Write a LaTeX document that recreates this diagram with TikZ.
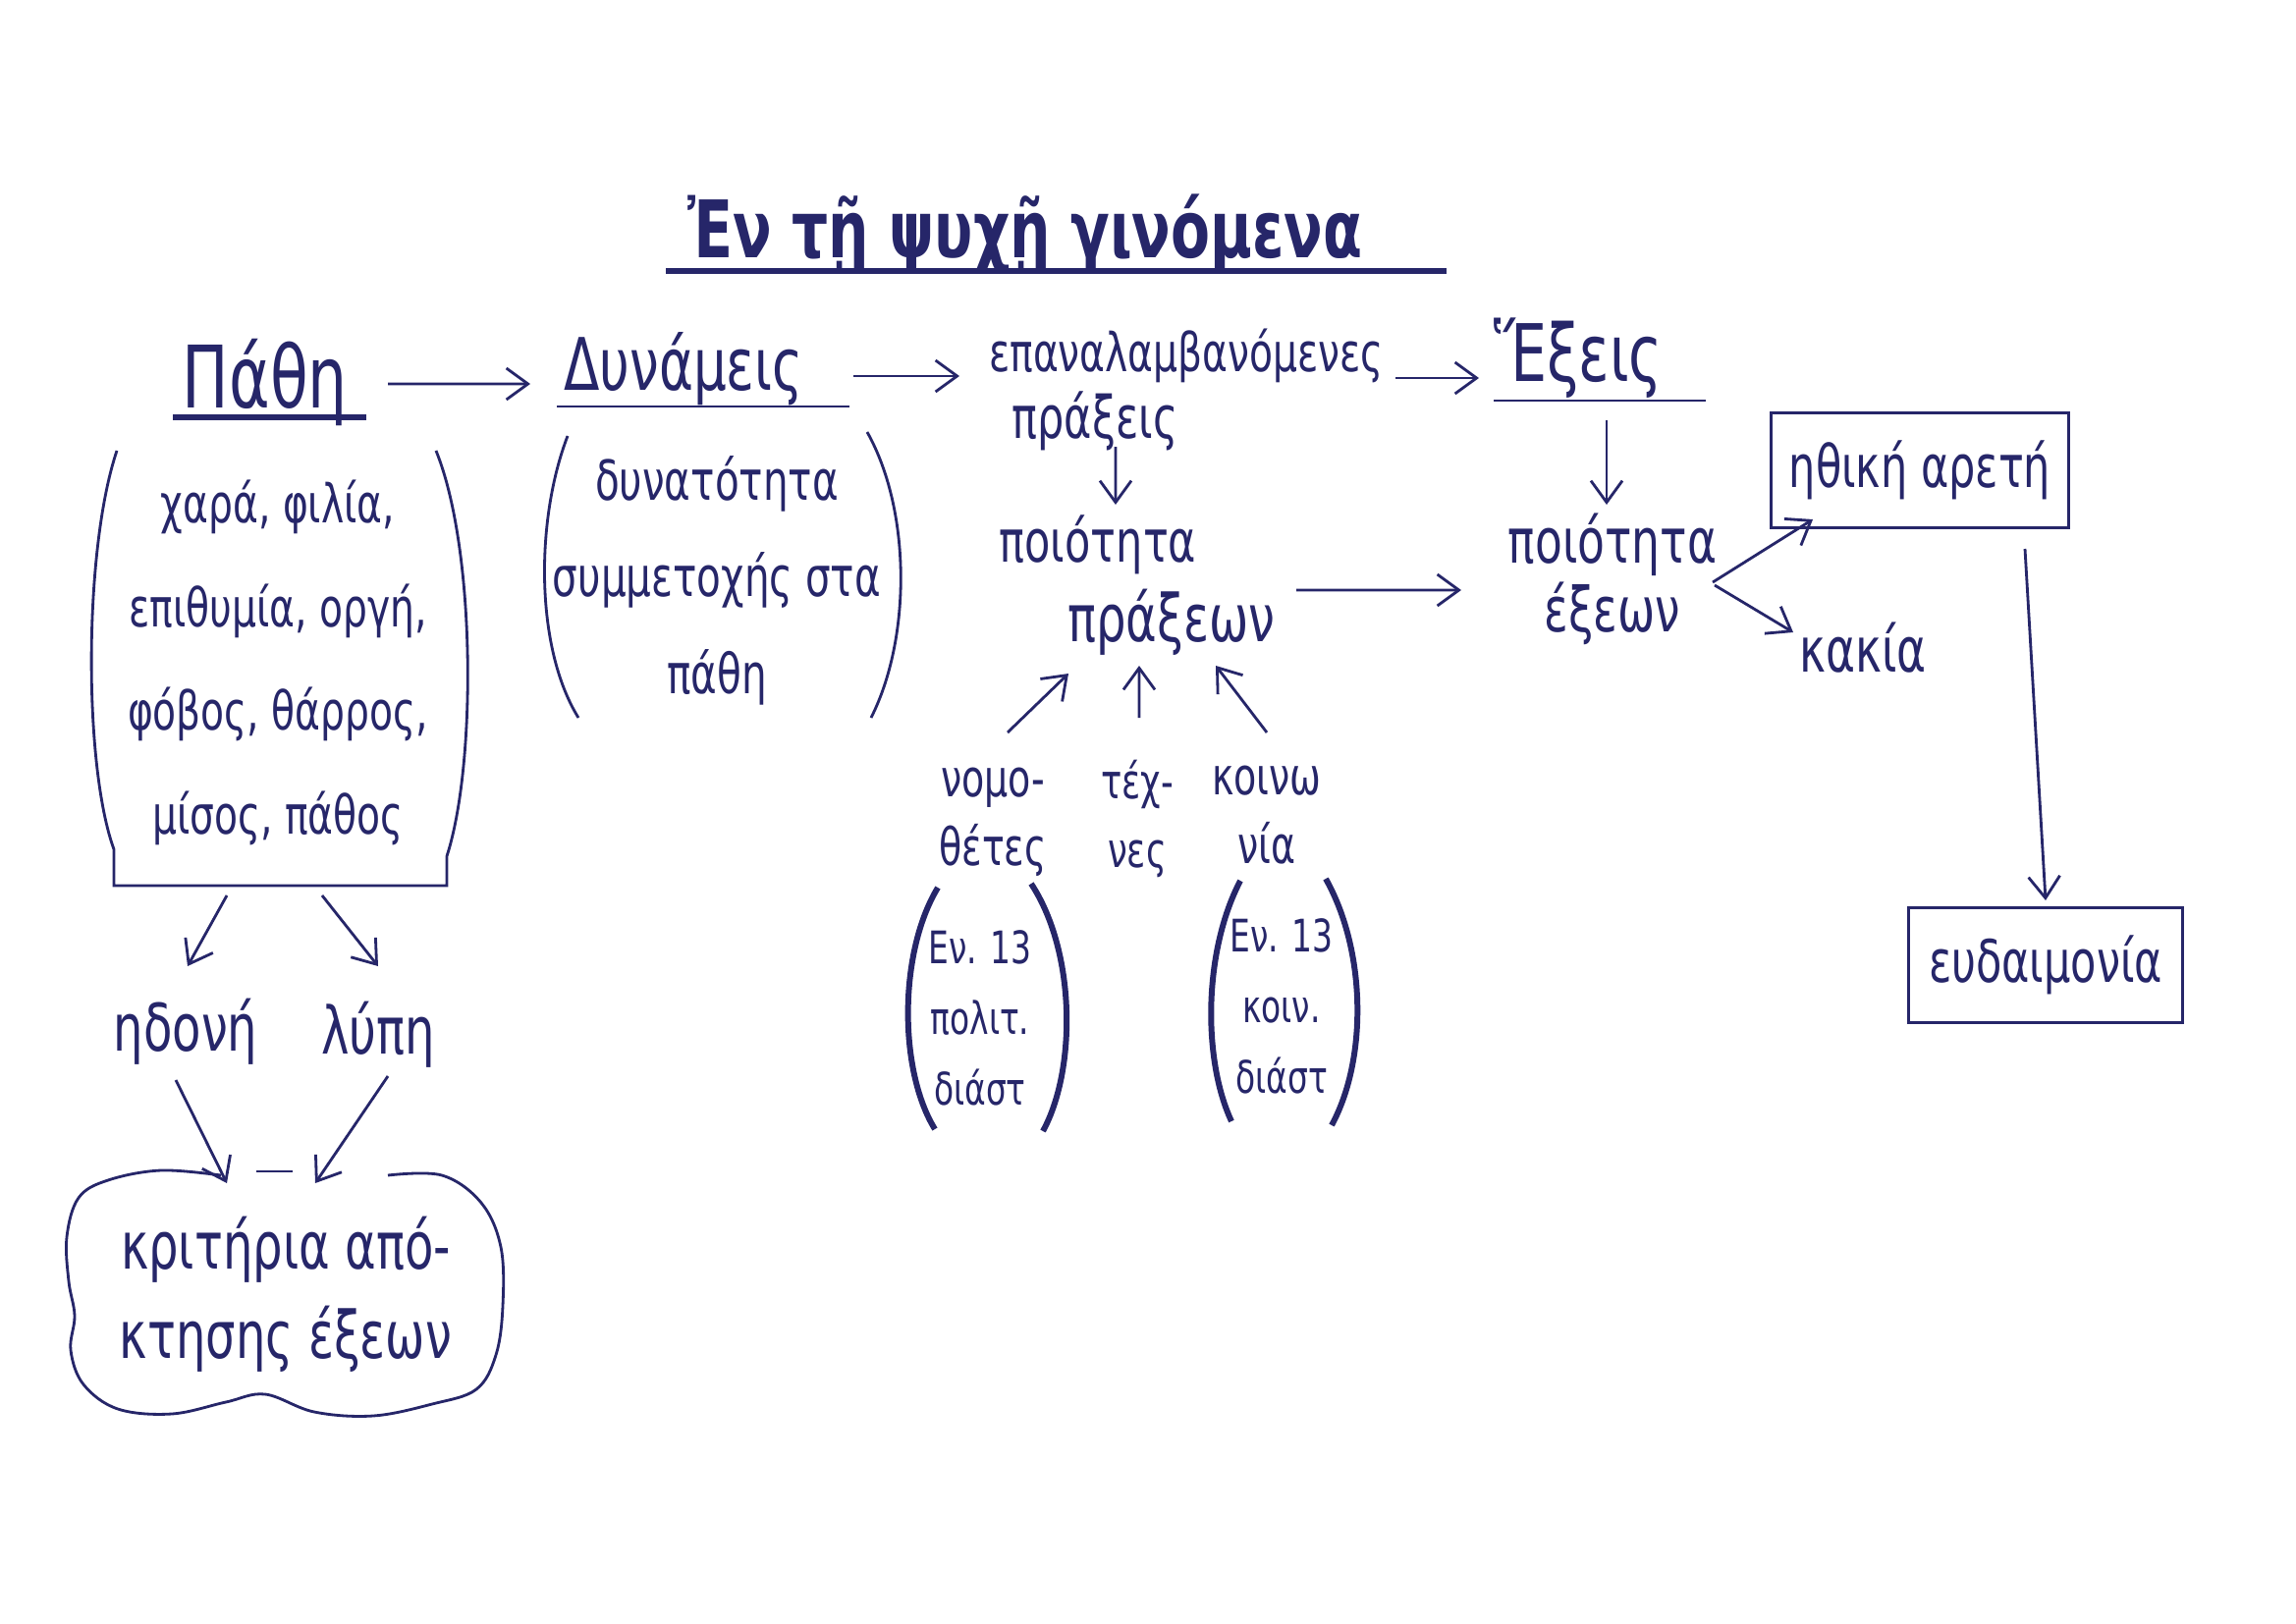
\documentclass[tikz,border=0pt]{standalone}
\usepackage{fontspec}
\setmainfont{DejaVu Sans}[FakeStretch=0.72]
\usepackage{tikz}
\usetikzlibrary{arrows.meta}
\definecolor{ink}{RGB}{38,38,105}

\begin{document}
\begin{tikzpicture}[
  >={Straight Barb[length=2.2mm,width=3.2mm]},
  txt/.style 2 args={text=ink, inner sep=1pt, align=center, font=\fontsize{#1}{#2}\selectfont},
  line/.style={draw=ink, thick},
  uline/.style={draw=ink, line width=1.5pt},
  paren/.style={draw=ink, line width=1.7pt},
  box/.style={draw=ink, thick, rectangle},
]
\path[use as bounding box, fill=white] (0,0) rectangle (23.38,-16.54);

% headings
\node at (10.44,-2.39) [txt={23}{28}] (T) {\bfseries Ἐν τῇ ψυχῇ γινόμενα};
\draw[uline] (6.78,-2.76) -- (14.73,-2.76);
\node at (2.70,-3.89) [txt={25}{30}] (P) {Πάθη};
\draw[uline] (1.76,-4.25) -- (3.73,-4.25);
\node at (6.96,-3.76) [txt={21}{28}] (D) {Δυνάμεις};
\draw[line] (5.67,-4.14) -- (8.65,-4.14);
\node at (12.08,-3.62) [txt={15.5}{18}] (R1) {επαναλαμβανόμενες};
\node at (11.15,-4.29) [txt={17}{20}] (R2) {πράξεις};
\node at (16.07,-3.65) [txt={23}{28}] (X) {Ἕξεις};
\draw[line] (15.21,-4.08) -- (17.37,-4.08);

% lists under the headings
\node at (2.83,-6.75) [txt={15.5}{30}] (PB) {χαρά, φιλία,\\επιθυμία, οργή,\\φόβος, θάρρος,\\μίσος, πάθος};
\draw[line] (1.19,-4.59) .. controls (0.85,-5.6) and (0.85,-7.8) .. (1.16,-8.65) -- (1.16,-9.02)
  -- (4.55,-9.02) -- (4.55,-8.72) .. controls (4.85,-7.8) and (4.85,-5.6) .. (4.44,-4.59);
\node at (7.30,-5.91) [txt={16}{28}] (DB) {δυνατότητα\\συμμετοχής στα\\πάθη};
\draw[line] (5.78,-4.44) .. controls (5.45,-5.3) and (5.45,-6.6) .. (5.89,-7.31);
\draw[line] (8.83,-4.40) .. controls (9.28,-5.2) and (9.28,-6.5) .. (8.87,-7.31);

% middle
\node at (11.18,-5.55) [txt={17}{20}] (Q1) {ποιότητα};
\node at (11.93,-6.34) [txt={19}{22}] (Q2) {πράξεων};
\node at (16.42,-5.90) [txt={18}{20}] (Q3) {ποιότητα\\έξεων};
\node at (10.11,-8.37) [txt={15}{20}] (N) {νομο-\\θέτες};
\node at (11.58,-8.34) [txt={14}{20}] (Te) {τέχ-\\νες};
\node at (12.90,-8.30) [txt={15}{20}] (Ko) {κοινω\\νία};
\node at (9.98,-10.37) [txt={13}{20.5}] (O1) {Εν. 13\\πολιτ.\\διάστ};
\draw[paren] (9.55,-9.04) .. controls (9.15,-9.7) and (9.15,-10.9) .. (9.52,-11.50);
\draw[paren] (10.50,-9.00) .. controls (10.96,-9.7) and (10.96,-10.9) .. (10.62,-11.52);
\node at (13.05,-10.25) [txt={13}{20.5}] (O2) {Εν. 13\\κοιν.\\διάστ};
\draw[paren] (12.63,-8.97) .. controls (12.25,-9.7) and (12.25,-10.8) .. (12.54,-11.42);
\draw[paren] (13.50,-8.95) .. controls (13.92,-9.7) and (13.92,-10.8) .. (13.56,-11.46);

% right
\node at (19.55,-4.79) [box, minimum width=3.03cm, minimum height=1.17cm, txt={17}{20}] (A) {ηθική αρετή};
\node at (18.97,-6.60) [txt={18}{20}] (K) {κακία};
\node at (20.83,-9.83) [box, minimum width=2.79cm, minimum height=1.17cm, txt={17}{20}] (E) {ευδαιμονία};

% bottom left
\node at (1.89,-10.51) [txt={19}{22}] (H) {ηδονή};
\node at (3.85,-10.54) [txt={19}{22}] (L) {λύπη};
\node at (2.91,-13.18) [txt={19}{26}] (C) {κριτήρια από-\\κτησης έξεων};
\draw[line] plot[smooth, tension=0.6] coordinates {(2.25,-11.97) (1.64,-11.92) (1.10,-12.02) (0.80,-12.20)
  (0.68,-12.60) (0.70,-13.05) (0.76,-13.40) (0.72,-13.75) (0.85,-14.10) (1.20,-14.35) (1.75,-14.40)
  (2.30,-14.28) (2.70,-14.20) (3.20,-14.38) (3.80,-14.42) (4.40,-14.30) (4.85,-14.15) (5.05,-13.80)
  (5.12,-13.30) (5.10,-12.70) (4.90,-12.25) (4.50,-11.97) (3.95,-11.97)};
\draw[line] (2.61,-11.93) -- (2.98,-11.93);

% arrows
\draw[line,->] ([shift={(1.25,-0.02)}]P.center) -- ([shift={(-1.56,-0.15)}]D.center);
\draw[line,->] ([shift={(1.73,-0.07)}]D.center) -- ([shift={(-2.31,-0.21)}]R1.center);
\draw[line,->] ([shift={(2.13,-0.23)}]R1.center) -- ([shift={(-1.01,-0.2)}]X.center);
\draw[line,->] ([shift={(0.21,-0.26)}]R2.center) -- ([shift={(0.18,0.41)}]Q1.center);
\draw[line,->] ([shift={(1.27,0.33)}]Q2.center) -- ([shift={(-1.54,-0.11)}]Q3.center);
\draw[line,->] ([shift={(0.29,-0.63)}]X.center) -- ([shift={(-0.06,0.76)}]Q3.center);
\draw[line,->] ([shift={(1.02,-0.03)}]Q3.center) -- ([shift={(-1.09,-0.50)}]A.center);
\draw[line,->] ([shift={(1.04,-0.06)}]Q3.center) -- ([shift={(-0.71,0.16)}]K.center);
\draw[line,->] ([shift={(1.07,-0.80)}]A.center) -- ([shift={(0,0.66)}]E.center);
\draw[line,->] ([shift={(0.15,0.91)}]N.center) -- ([shift={(-1.05,-0.52)}]Q2.center);
\draw[line,->] ([shift={(0.02,1.03)}]Te.center) -- ([shift={(-0.33,-0.44)}]Q2.center);
\draw[line,->] ([shift={(0,0.84)}]Ko.center) -- ([shift={(0.45,-0.44)}]Q2.center);
\draw[line,->] ([shift={(-0.52,-2.37)}]PB.center) -- ([shift={(0.02,0.67)}]H.center);
\draw[line,->] ([shift={(0.45,-2.37)}]PB.center) -- ([shift={(0,0.70)}]L.center);
\draw[line,->] ([shift={(-0.10,-0.49)}]H.center) -- ([shift={(-0.60,1.13)}]C.center);
\draw[line,->] ([shift={(0.10,-0.42)}]L.center) -- ([shift={(0.30,1.13)}]C.center);
\end{tikzpicture}
\end{document}
